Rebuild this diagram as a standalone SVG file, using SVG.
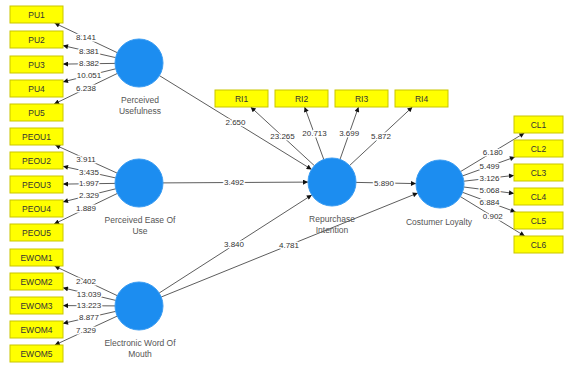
<svg xmlns="http://www.w3.org/2000/svg" width="564" height="366" viewBox="0 0 564 366">
  <style>
    .ind rect { fill: #FFFF00; stroke: #C9C600; stroke-width: 1; }
    .ind text { font-family: "Liberation Sans", Arial, sans-serif; font-size: 8.5px; fill: #333; text-anchor: middle; }
    .lat circle { fill: #1C8DF0; stroke: #3A9CF2; stroke-width: 1; }
    .lat text { font-family: "Liberation Sans", Arial, sans-serif; font-size: 8.5px; fill: #555; text-anchor: middle; }
    .edges line { stroke: #333; stroke-width: 0.8; marker-end: url(#arrow); }
    .val { font-family: "Liberation Sans", Arial, sans-serif; font-size: 8px; fill: #333; text-anchor: middle; dominant-baseline: central; stroke: #fff; stroke-width: 3px; paint-order: stroke; stroke-linejoin: round; }
  </style>
  <defs>
    <marker id="arrow" viewBox="0 0 10 10" refX="10" refY="5" markerWidth="6" markerHeight="5" markerUnits="userSpaceOnUse" orient="auto">
      <path d="M0,0 L10,5 L0,10 Z" fill="#111"/>
    </marker>
  </defs>
  <rect width="564" height="366" fill="#fff"/>

  <!-- connectors: outer loadings, path coefficients and their t-values -->
  <g id="connectors" class="edges">
    <!-- Perceived Usefulness -> PU1..PU5 -->
    <line x1="117.3" y1="52.7" x2="54.5" y2="23"/>
    <line x1="115.6" y1="57.6" x2="63" y2="45.6"/>
    <line x1="115" y1="63.4" x2="63" y2="64.1"/>
    <line x1="115.7" y1="68.8" x2="63" y2="81.9"/>
    <line x1="117.4" y1="73.4" x2="54.1" y2="104"/>
    <!-- Perceived Ease Of Use -> PEOU1..PEOU5 -->
    <line x1="117.1" y1="173.1" x2="55.2" y2="145"/>
    <line x1="115.5" y1="177.9" x2="63" y2="166.3"/>
    <line x1="115" y1="183.4" x2="63" y2="184.1"/>
    <line x1="115.7" y1="188.8" x2="63" y2="201.9"/>
    <line x1="117.4" y1="193.4" x2="54.1" y2="224"/>
    <!-- Electronic Word Of Mouth -> EWOM1..EWOM5 -->
    <line x1="117.3" y1="295.7" x2="54.5" y2="266"/>
    <line x1="115.7" y1="300.4" x2="63" y2="287.8"/>
    <line x1="115" y1="305.9" x2="63" y2="305.6"/>
    <line x1="115.6" y1="311.4" x2="63" y2="323.4"/>
    <line x1="117.2" y1="316.1" x2="54.8" y2="345"/>
    <!-- Repurchase Intention -> RI1..RI4 -->
    <line x1="314.4" y1="165.7" x2="250.7" y2="107"/>
    <line x1="323.8" y1="159.5" x2="304.6" y2="107"/>
    <line x1="340" y1="159.4" x2="358.5" y2="107"/>
    <line x1="349.5" y1="165.6" x2="412.4" y2="107"/>
    <!-- Costumer Loyalty -> CL1..CL6 -->
    <line x1="460.5" y1="171.6" x2="524.4" y2="133"/>
    <line x1="462.6" y1="175.9" x2="514.9" y2="157"/>
    <line x1="463.8" y1="181.2" x2="514" y2="175.4"/>
    <line x1="463.8" y1="187" x2="514" y2="193.4"/>
    <line x1="462.5" y1="192.3" x2="515.6" y2="212"/>
    <line x1="460.4" y1="196.6" x2="524.7" y2="236"/>
    <!-- structural paths -->
    <line x1="159.4" y1="75.6" x2="311.6" y2="169.4"/>
    <line x1="163" y1="182.9" x2="308" y2="182.1"/>
    <line x1="159.2" y1="293" x2="311.8" y2="195"/>
    <line x1="161.2" y1="297" x2="417.8" y2="193"/>
    <line x1="356" y1="182.4" x2="416" y2="183.6"/>

    <!-- t-values -->
    <text class="val" x="85.9" y="37.9">8.141</text>
    <text class="val" x="89" y="51.6">8.381</text>
    <text class="val" x="89" y="63.7">8.382</text>
    <text class="val" x="89" y="75.6">10.051</text>
    <text class="val" x="86" y="88.5">6.238</text>

    <text class="val" x="86" y="159">3.911</text>
    <text class="val" x="89" y="172">3.435</text>
    <text class="val" x="89" y="183.7">1.997</text>
    <text class="val" x="89" y="195.5">2.329</text>
    <text class="val" x="86" y="208.5">1.889</text>

    <text class="val" x="86" y="281">2.402</text>
    <text class="val" x="89" y="294">13.039</text>
    <text class="val" x="89" y="305.7">13.223</text>
    <text class="val" x="89" y="317.4">8.877</text>
    <text class="val" x="86" y="330.3">7.329</text>

    <text class="val" x="282.5" y="136.6">23.265</text>
    <text class="val" x="314.5" y="133.3">20.713</text>
    <text class="val" x="349.2" y="133.3">3.699</text>
    <text class="val" x="381" y="136.3">5.872</text>

    <text class="val" x="492.8" y="152.3">6.180</text>
    <text class="val" x="489.5" y="166.6">5.499</text>
    <text class="val" x="489.5" y="178.6">3.126</text>
    <text class="val" x="489.5" y="190.3">5.068</text>
    <text class="val" x="489.5" y="202.3">6.884</text>
    <text class="val" x="492.8" y="216.5">0.902</text>

    <text class="val" x="235.5" y="122.8">2.650</text>
    <text class="val" x="234" y="182.8">3.492</text>
    <text class="val" x="234" y="244">3.840</text>
    <text class="val" x="289" y="245">4.781</text>
    <text class="val" x="384" y="183.2">5.890</text>
  </g>

  <!-- latent constructs -->
  <g id="perceived-usefulness" class="lat">
    <circle cx="139" cy="63" r="24"/>
    <text x="140" y="103">Perceived</text>
    <text x="140" y="114">Usefulness</text>
  </g>
  <g id="perceived-ease-of-use" class="lat">
    <circle cx="139" cy="183" r="24"/>
    <text x="140" y="223">Perceived Ease Of</text>
    <text x="140" y="234">Use</text>
  </g>
  <g id="electronic-word-of-mouth" class="lat">
    <circle cx="139" cy="306" r="24"/>
    <text x="140" y="346">Electronic Word Of</text>
    <text x="140" y="357">Mouth</text>
  </g>
  <g id="repurchase-intention" class="lat">
    <circle cx="332" cy="182" r="24"/>
    <text x="332" y="222">Repurchase</text>
    <text x="332" y="233">Intention</text>
  </g>
  <g id="costumer-loyalty" class="lat">
    <circle cx="440" cy="184" r="24"/>
    <text x="439" y="225">Costumer Loyalty</text>
  </g>

  <!-- indicators -->
  <g id="PU1" class="ind"><rect x="10" y="6" width="53" height="17"/><text x="36.5" y="17.5">PU1</text></g>
  <g id="PU2" class="ind"><rect x="10" y="31" width="53" height="17"/><text x="36.5" y="42.5">PU2</text></g>
  <g id="PU3" class="ind"><rect x="10" y="56" width="53" height="17"/><text x="36.5" y="67.5">PU3</text></g>
  <g id="PU4" class="ind"><rect x="10" y="80" width="53" height="17"/><text x="36.5" y="91.5">PU4</text></g>
  <g id="PU5" class="ind"><rect x="10" y="104" width="53" height="17"/><text x="36.5" y="115.5">PU5</text></g>

  <g id="PEOU1" class="ind"><rect x="10" y="128" width="53" height="17"/><text x="36.5" y="139.5">PEOU1</text></g>
  <g id="PEOU2" class="ind"><rect x="10" y="152" width="53" height="17"/><text x="36.5" y="163.5">PEOU2</text></g>
  <g id="PEOU3" class="ind"><rect x="10" y="176" width="53" height="17"/><text x="36.5" y="187.5">PEOU3</text></g>
  <g id="PEOU4" class="ind"><rect x="10" y="200" width="53" height="17"/><text x="36.5" y="211.5">PEOU4</text></g>
  <g id="PEOU5" class="ind"><rect x="10" y="224" width="53" height="17"/><text x="36.5" y="235.5">PEOU5</text></g>

  <g id="EWOM1" class="ind"><rect x="10" y="249" width="53" height="17"/><text x="36.5" y="260.5">EWOM1</text></g>
  <g id="EWOM2" class="ind"><rect x="10" y="273" width="53" height="17"/><text x="36.5" y="284.5">EWOM2</text></g>
  <g id="EWOM3" class="ind"><rect x="10" y="297" width="53" height="17"/><text x="36.5" y="308.5">EWOM3</text></g>
  <g id="EWOM4" class="ind"><rect x="10" y="321" width="53" height="17"/><text x="36.5" y="332.5">EWOM4</text></g>
  <g id="EWOM5" class="ind"><rect x="10" y="345" width="53" height="17"/><text x="36.5" y="356.5">EWOM5</text></g>

  <g id="RI1" class="ind"><rect x="215" y="90" width="53" height="17"/><text x="241.5" y="101.5">RI1</text></g>
  <g id="RI2" class="ind"><rect x="275" y="90" width="53" height="17"/><text x="301.5" y="101.5">RI2</text></g>
  <g id="RI3" class="ind"><rect x="335" y="90" width="53" height="17"/><text x="361.5" y="101.5">RI3</text></g>
  <g id="RI4" class="ind"><rect x="395" y="90" width="53" height="17"/><text x="421.5" y="101.5">RI4</text></g>

  <g id="CL1" class="ind"><rect x="514" y="116" width="49" height="17"/><text x="538.5" y="127.5">CL1</text></g>
  <g id="CL2" class="ind"><rect x="514" y="140" width="49" height="17"/><text x="538.5" y="151.5">CL2</text></g>
  <g id="CL3" class="ind"><rect x="514" y="164" width="49" height="17"/><text x="538.5" y="175.5">CL3</text></g>
  <g id="CL4" class="ind"><rect x="514" y="188" width="49" height="17"/><text x="538.5" y="199.5">CL4</text></g>
  <g id="CL5" class="ind"><rect x="514" y="212" width="49" height="17"/><text x="538.5" y="223.5">CL5</text></g>
  <g id="CL6" class="ind"><rect x="514" y="236" width="49" height="17"/><text x="538.5" y="247.5">CL6</text></g>
</svg>
